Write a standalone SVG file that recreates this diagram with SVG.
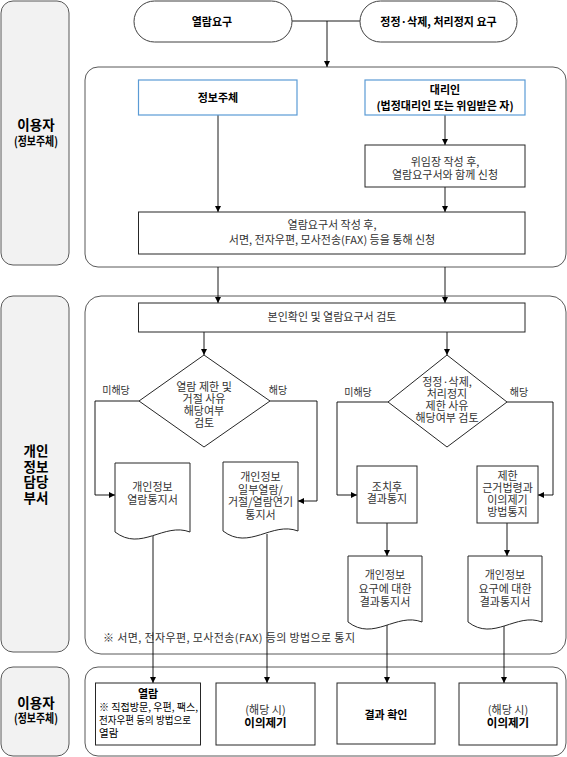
<svg xmlns="http://www.w3.org/2000/svg" width="567" height="757" viewBox="0 0 567 757">
<defs>
<marker id="arr" viewBox="0 0 8 8" refX="8" refY="4" markerWidth="6" markerHeight="6" markerUnits="userSpaceOnUse" orient="auto">
<path d="M0,0 L8,4 L0,8 Z" fill="#000"/>
</marker>
<style>
text{font-family:"Noto Sans CJK KR","Noto Sans",sans-serif;fill:#333;font-size:11px;text-anchor:middle}
.b{font-weight:bold;fill:#000}
.lab{fill:#f2f2f2;stroke:#595959;stroke-width:1}
.lane{fill:#fff;stroke:#595959;stroke-width:1}
.box{fill:#fff;stroke:#262626;stroke-width:1}
.blue{fill:#fff;stroke:#5b9bd5;stroke-width:1.2}
.pill{fill:#fff;stroke:#404040;stroke-width:1}
.ln{fill:none;stroke:#000;stroke-width:0.9}
.ar{marker-end:url(#arr)}
.lt{font-size:13.5px;font-weight:bold;fill:#000}
.st{font-size:12px;font-weight:bold;fill:#000}
.sm{font-size:10.5px;fill:#000}
.lb{font-size:10px}
</style>
</defs>

<g id="lanes">
<rect class="lab" x="1" y="1" width="68" height="264" rx="12"/>
<rect class="lane" x="85" y="67" width="481" height="200" rx="13"/>
<rect class="lab" x="1" y="296" width="68" height="356" rx="12"/>
<rect class="lane" x="85" y="296" width="481" height="358" rx="16"/>
<rect class="lab" x="1" y="667" width="68" height="89" rx="12"/>
<rect class="lane" x="85" y="667" width="481" height="89" rx="13"/>
<text class="lt" x="36" y="130">이용자<tspan class="st" x="36" dy="16" textLength="44" lengthAdjust="spacingAndGlyphs">(정보주체)</tspan></text>
<text class="lt" x="36" y="456">개인<tspan x="36" dy="15.5">정보</tspan><tspan x="36" dy="15.5">담당</tspan><tspan x="36" dy="15.5">부서</tspan></text>
<text class="lt" x="36" y="708">이용자<tspan class="st" x="36" dy="15" textLength="44" lengthAdjust="spacingAndGlyphs">(정보주체)</tspan></text>
</g>

<g id="connectors">
<path class="ln" d="M292,21 H360"/>
<path class="ln ar" d="M327,21 V67"/>
<path class="ln ar" d="M218,115 V212"/>
<path class="ln ar" d="M445,115 V145"/>
<path class="ln ar" d="M445,187 V212"/>
<path class="ln ar" d="M218,267 V303"/>
<path class="ln ar" d="M445,267 V303"/>
<path class="ln ar" d="M204,332 V355"/>
<path class="ln ar" d="M447,332 V355"/>
<path class="ln ar" d="M139,401 H95 V495 H115"/>
<path class="ln ar" d="M270,401 H317 V501 H298"/>
<path class="ln ar" d="M388,402 H337 V495 H357"/>
<path class="ln ar" d="M507,402 H553 V495 H538"/>
<path class="ln ar" d="M387,523 V556"/>
<path class="ln ar" d="M507,523 V556"/>
<path class="ln ar" d="M153,536 V683"/>
<path class="ln ar" d="M267,534 V683"/>
<path class="ln ar" d="M387,625 V683"/>
<path class="ln ar" d="M504,625 V683"/>
<text class="lb" x="116" y="393.5">미해당</text>
<text class="lb" x="278" y="393.5">해당</text>
<text class="lb" x="358" y="395.5">미해당</text>
<text class="lb" x="519" y="395.5">해당</text>
</g>

<g id="req-view">
<rect class="pill" x="134" y="1" width="158" height="41" rx="20.5"/>
<text class="b" x="212" y="25.5" font-size="13">열람요구</text>
</g>
<g id="req-correct">
<rect class="pill" x="360" y="1" width="157" height="41" rx="20.5"/>
<text class="b" x="438.5" y="25.5" font-size="13">정정·삭제, 처리정지 요구</text>
</g>

<g id="subject">
<rect class="blue" x="138.5" y="80" width="158.5" height="35"/>
<text class="b" x="218" y="102" font-size="12">정보주체</text>
</g>
<g id="agent">
<rect class="blue" x="365" y="80" width="160" height="35"/>
<text class="b" x="445" y="94" font-size="12">대리인<tspan x="445" dy="16">(법정대리인 또는 위임받은 자)</tspan></text>
</g>
<g id="proxy">
<rect class="box" x="365" y="145" width="160" height="42"/>
<text x="445" y="166">위임장 작성 후,<tspan x="445" dy="12.5">열람요구서와 함께 신청</tspan></text>
</g>
<g id="apply">
<rect class="box" x="138.5" y="212" width="386.5" height="42"/>
<text x="332" y="229">열람요구서 작성 후,<tspan x="332" dy="15">서면, 전자우편, 모사전송(FAX) 등을 통해 신청</tspan></text>
</g>

<g id="verify">
<rect class="box" x="138.5" y="303" width="386.5" height="29"/>
<text x="332" y="321">본인확인 및 열람요구서 검토</text>
</g>

<g id="dec-view">
<path class="box" d="M204,355 L270,401 L204,447 L139,401 Z"/>
<text x="204" y="390.5">열람 제한 및<tspan x="204" dy="12">거절 사유</tspan><tspan x="204" dy="12">해당여부</tspan><tspan x="204" dy="12">검토</tspan></text>
</g>
<g id="dec-correct">
<path class="box" d="M447,355 L507,402 L447,447 L388,402 Z"/>
<text x="447" y="386">정정·삭제,<tspan x="447" dy="12">처리정지</tspan><tspan x="447" dy="12">제한 사유</tspan><tspan x="447" dy="12">해당여부 검토</tspan></text>
</g>

<g id="doc-view">
<path class="box" d="M115,463 H190 V532 C163.75,522 141.25,552 115,532 Z"/>
<text x="152.5" y="491">개인정보<tspan x="152.5" dy="13">열람통지서</tspan></text>
</g>
<g id="doc-partial">
<path class="box" d="M223,462 H298 V531 C271.75,521 249.25,551 223,531 Z"/>
<text x="260.5" y="481">개인정보<tspan x="260.5" dy="12.5">일부열람/</tspan><tspan x="260.5" dy="12.5">거절/열람연기</tspan><tspan x="260.5" dy="12.5">통지서</tspan></text>
</g>
<g id="act-notice">
<rect class="box" x="357" y="466" width="60" height="57"/>
<text x="387" y="491">조치후<tspan x="387" dy="12">결과통지</tspan></text>
</g>
<g id="limit-notice">
<rect class="box" x="477" y="466" width="61" height="57"/>
<text x="507.5" y="479.5">제한<tspan x="507.5" dy="12">근거법령과</tspan><tspan x="507.5" dy="12">이의제기</tspan><tspan x="507.5" dy="12">방법통지</tspan></text>
</g>
<g id="doc-result1">
<path class="box" d="M348,556 H422 V622 C396.1,612 373.9,642 348,622 Z"/>
<text x="385" y="579">개인정보<tspan x="385" dy="13.5">요구에 대한</tspan><tspan x="385" dy="13.5">결과통지서</tspan></text>
</g>
<g id="doc-result2">
<path class="box" d="M468,556 H542 V622 C516.1,612 493.9,642 468,622 Z"/>
<text x="505" y="579">개인정보<tspan x="505" dy="13.5">요구에 대한</tspan><tspan x="505" dy="13.5">결과통지서</tspan></text>
</g>
<g id="note">
<text x="103" y="642" font-size="11.5" style="text-anchor:start" textLength="252" lengthAdjust="spacing">※ 서면, 전자우편, 모사전송(FAX) 등의 방법으로 통지</text>
</g>

<g id="out-view">
<rect class="box" x="95.5" y="683" width="105" height="62"/>
<text class="b" x="148" y="698" font-size="11.5">열람</text>
<text class="sm" x="99" y="710.5" style="text-anchor:start"><tspan textLength="99" lengthAdjust="spacingAndGlyphs">※ 직접방문, 우편, 팩스,</tspan><tspan x="99" dy="13" textLength="92" lengthAdjust="spacingAndGlyphs">전자우편 등의 방법으로</tspan><tspan x="99" dy="13">열람</tspan></text>
</g>
<g id="out-objection1">
<rect class="box" x="216" y="683" width="99" height="62"/>
<text x="265.5" y="713.5">(해당 시)<tspan class="b" x="265.5" dy="13" font-size="11.5">이의제기</tspan></text>
</g>
<g id="out-check">
<rect class="box" x="337" y="683" width="98" height="61"/>
<text class="b" x="386" y="719" font-size="12">결과 확인</text>
</g>
<g id="out-objection2">
<rect class="box" x="459" y="683" width="98" height="62"/>
<text x="508" y="713.5">(해당 시)<tspan class="b" x="508" dy="13" font-size="11.5">이의제기</tspan></text>
</g>
</svg>
